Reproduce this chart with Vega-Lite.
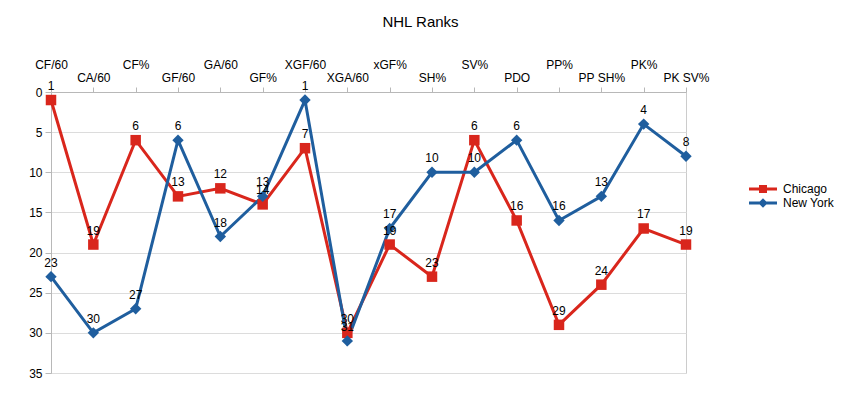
{
  "$schema": "https://vega.github.io/schema/vega-lite/v6.json",
  "autosize": "none",
  "width": 635,
  "height": 281,
  "padding": {"left": 51, "top": 92, "right": 160, "bottom": 30},
  "background": "white",
  "title": {"text": "NHL Ranks", "fontSize": 15, "fontWeight": "normal", "font": "Liberation Sans", "color": "#000000", "dx": 52, "offset": 28},
  "config": {
    "view": {"stroke": "#cccccc", "strokeWidth": 1},
    "font": "Liberation Sans",
    "axis": {"labelFont": "Liberation Sans", "labelFontSize": 12, "labelColor": "#000000", "gridColor": "#dcdcdc", "domainColor": "#b8b8b8", "tickColor": "#b8b8b8"}
  },
  "data": {"values": [
    {"metric": "CF/60", "team": "Chicago", "rank": 1},
    {"metric": "CA/60", "team": "Chicago", "rank": 19},
    {"metric": "CF%", "team": "Chicago", "rank": 6},
    {"metric": "GF/60", "team": "Chicago", "rank": 13},
    {"metric": "GA/60", "team": "Chicago", "rank": 12},
    {"metric": "GF%", "team": "Chicago", "rank": 14},
    {"metric": "XGF/60", "team": "Chicago", "rank": 7},
    {"metric": "XGA/60", "team": "Chicago", "rank": 30},
    {"metric": "xGF%", "team": "Chicago", "rank": 19},
    {"metric": "SH%", "team": "Chicago", "rank": 23},
    {"metric": "SV%", "team": "Chicago", "rank": 6},
    {"metric": "PDO", "team": "Chicago", "rank": 16},
    {"metric": "PP%", "team": "Chicago", "rank": 29},
    {"metric": "PP SH%", "team": "Chicago", "rank": 24},
    {"metric": "PK%", "team": "Chicago", "rank": 17},
    {"metric": "PK SV%", "team": "Chicago", "rank": 19},
    {"metric": "CF/60", "team": "New York", "rank": 23},
    {"metric": "CA/60", "team": "New York", "rank": 30},
    {"metric": "CF%", "team": "New York", "rank": 27},
    {"metric": "GF/60", "team": "New York", "rank": 6},
    {"metric": "GA/60", "team": "New York", "rank": 18},
    {"metric": "GF%", "team": "New York", "rank": 13},
    {"metric": "XGF/60", "team": "New York", "rank": 1},
    {"metric": "XGA/60", "team": "New York", "rank": 31},
    {"metric": "xGF%", "team": "New York", "rank": 17},
    {"metric": "SH%", "team": "New York", "rank": 10},
    {"metric": "SV%", "team": "New York", "rank": 10},
    {"metric": "PDO", "team": "New York", "rank": 6},
    {"metric": "PP%", "team": "New York", "rank": 16},
    {"metric": "PP SH%", "team": "New York", "rank": 13},
    {"metric": "PK%", "team": "New York", "rank": 4},
    {"metric": "PK SV%", "team": "New York", "rank": 8}
  ]},
  "encoding": {
    "x": {
      "field": "metric", "type": "nominal",
      "sort": ["CF/60", "CA/60", "CF%", "GF/60", "GA/60", "GF%", "XGF/60", "XGA/60", "xGF%", "SH%", "SV%", "PDO", "PP%", "PP SH%", "PK%", "PK SV%"],
      "scale": {"type": "point", "padding": 0},
      "axis": {
        "orient": "top", "title": null, "labelAngle": 0, "tickSize": 5, "grid": false,
        "labelPadding": {"condition": {"test": "indexof(['CF/60','CF%','GA/60','XGF/60','xGF%','SV%','PP%','PK%'], datum.value) >= 0", "value": 16}, "value": 3}
      }
    },
    "y": {
      "field": "rank", "type": "quantitative",
      "scale": {"domain": [0, 35], "reverse": true, "nice": false, "zero": false},
      "axis": {"title": null, "values": [0, 5, 10, 15, 20, 25, 30, 35], "tickSize": 6, "labelPadding": 3, "grid": true}
    },
    "color": {
      "field": "team", "type": "nominal",
      "scale": {"domain": ["Chicago", "New York"], "range": ["#d9261c", "#1f5e9e"]},
      "legend": {"title": null, "orient": "none", "legendX": 706, "legendY": 91, "symbolSize": 100, "labelOffset": 14, "labelFontSize": 12, "labelColor": "#000000", "labelFont": "Liberation Sans", "rowPadding": 2, "padding": 0, "symbolStrokeWidth": 0}
    }
  },
  "layer": [
    {"mark": {"type": "line", "strokeWidth": 3}},
    {
      "transform": [{"filter": "false"}],
      "mark": {"type": "point", "filled": true, "opacity": 1},
      "encoding": {
        "shape": {
          "field": "team", "type": "nominal",
          "scale": {"domain": ["Chicago", "New York"], "range": ["M-2.8,-0.28H2.8V0.28H-2.8Z M-0.8,-0.8H0.8V0.8H-0.8Z", "M-2.8,-0.28H2.8V0.28H-2.8Z M0,-0.95L0.95,0L0,0.95L-0.95,0Z"]},
          "legend": {"title": null}
        }
      }
    },
    {
      "transform": [{"filter": "datum.team == 'Chicago'"}],
      "mark": {"type": "point", "shape": "square", "filled": true, "opacity": 1, "size": 110}
    },
    {
      "transform": [{"filter": "datum.team == 'New York'"}],
      "mark": {"type": "point", "shape": "diamond", "filled": true, "opacity": 1, "size": 130}
    },
    {
      "mark": {"type": "text", "dy": -10, "baseline": "alphabetic", "fontSize": 12, "font": "Liberation Sans", "color": "#000000"},
      "encoding": {"text": {"field": "rank", "type": "quantitative"}, "color": {"value": "#000000"}}
    }
  ]
}
